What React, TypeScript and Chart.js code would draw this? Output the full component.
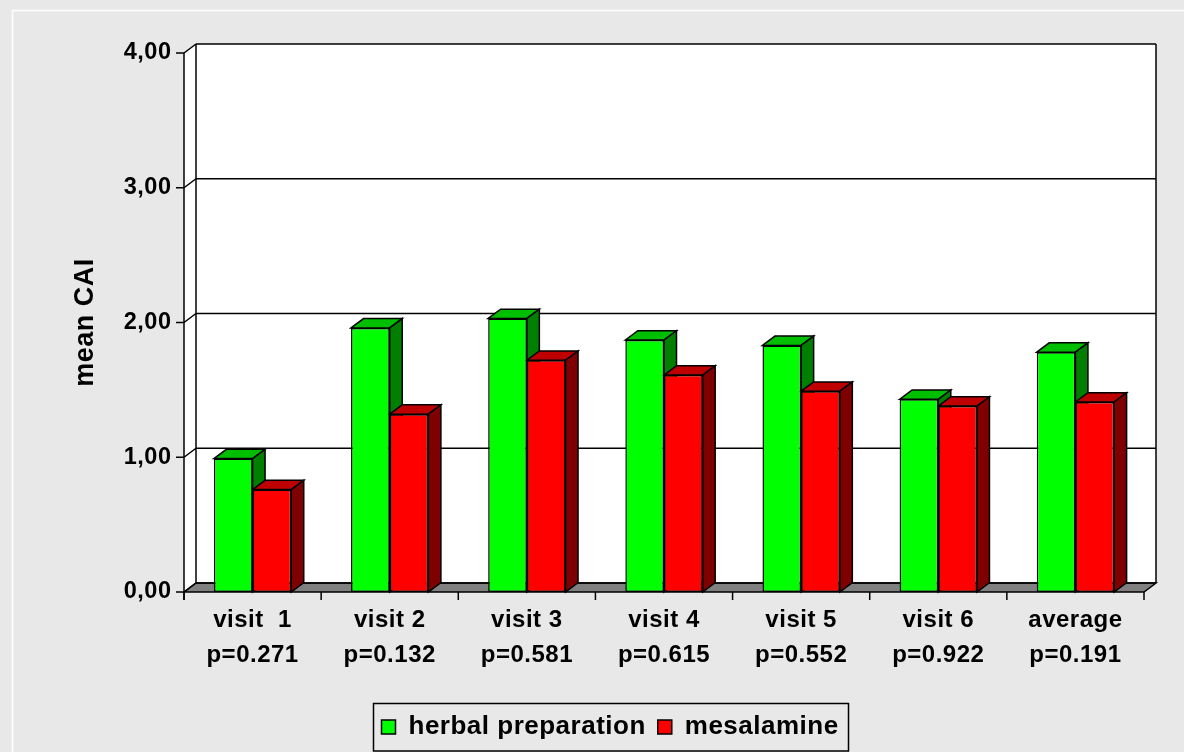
import React, { useEffect, useRef } from 'react';
import { Chart, registerables } from 'chart.js';

Chart.register(...registerables);

// ---- data ----
const categories = ['visit  1', 'visit 2', 'visit 3', 'visit 4', 'visit 5', 'visit 6', 'average'];
const pValues = ['p=0.271', 'p=0.132', 'p=0.581', 'p=0.615', 'p=0.552', 'p=0.922', 'p=0.191'];
const seriesNames = ['herbal preparation', 'mesalamine'];
const herbal = [0.99, 1.96, 2.03, 1.87, 1.83, 1.43, 1.78];
const mesalamine = [0.76, 1.32, 1.72, 1.61, 1.49, 1.38, 1.41];
const yTickLabels = ['0,00', '1,00', '2,00', '3,00', '4,00'];
const yTitle = 'mean CAI';

// ---- style ----
const W = 1184;
const H = 752;
const BG = '#e8e8e8';
const FONT = '"Liberation Sans", Arial, Helvetica, sans-serif';
const LW = 1.5;
const WALL_DX = 12;
const WALL_DY = -9;
const BAR_DX = 12.5;
const BAR_DY = -9.3;
const faces = [
  { front: '#00ff00', top: '#00bf00', side: '#007f00' },
  { front: '#ff0000', top: '#bf0000', side: '#7f0000' },
];

function poly(ctx: CanvasRenderingContext2D, pts: number[][], fill: string | null, stroke: boolean) {
  ctx.beginPath();
  ctx.moveTo(pts[0][0], pts[0][1]);
  for (let i = 1; i < pts.length; i++) ctx.lineTo(pts[i][0], pts[i][1]);
  ctx.closePath();
  if (fill) {
    ctx.fillStyle = fill;
    ctx.fill();
  }
  if (stroke) ctx.stroke();
}

function line(ctx: CanvasRenderingContext2D, x1: number, y1: number, x2: number, y2: number) {
  ctx.beginPath();
  ctx.moveTo(x1, y1);
  ctx.lineTo(x2, y2);
  ctx.stroke();
}

const spacingPlugin = {
  id: 'spacing',
  beforeLayout(chart: any) {
    chart.ctx.letterSpacing = '0.5px';
  },
  beforeDraw(chart: any) {
    chart.ctx.letterSpacing = '0.5px';
  },
};

const framePlugin = {
  id: 'frame',
  beforeDraw(chart: any) {
    const ctx = chart.ctx as CanvasRenderingContext2D;
    ctx.save();
    ctx.fillStyle = BG;
    ctx.fillRect(0, 0, chart.width, chart.height);
    ctx.strokeStyle = '#ffffff';
    ctx.lineWidth = 1.5;
    ctx.beginPath();
    ctx.moveTo(12.5, chart.height + 2);
    ctx.lineTo(12.5, 10.5);
    ctx.lineTo(chart.width + 2, 10.5);
    ctx.stroke();
    ctx.restore();
  },
};

const legendPlugin = {
  id: 'legendFrame',
  afterLayout(chart: any) {
    const lg = chart.legend;
    if (!lg || !lg.lineWidths) return;
    const pad = lg.options.labels.padding;
    const cx = (lg.left + pad + lg.right - lg.lineWidths[0]) / 2;
    const shift = 381.5 - cx;
    lg.left += shift;
    lg.right += shift;
  },
  afterDraw(chart: any) {
    const lg = chart.legend;
    if (!lg || !lg.legendHitBoxes || !lg.legendHitBoxes.length) return;
    const hb = lg.legendHitBoxes;
    const last = hb[hb.length - 1];
    const l = Math.round(hb[0].left - 9) + 0.5;
    const r = Math.round(last.left + last.width + 9) + 0.5;
    const ctx = chart.ctx as CanvasRenderingContext2D;
    ctx.save();
    ctx.strokeStyle = '#000';
    ctx.lineWidth = LW;
    ctx.strokeRect(l, Math.round(lg.top + 1) + 0.5, r - l, 47.5);
    ctx.restore();
  },
};

const threeDPlugin = {
  id: 'threeD',
  beforeDatasetsDraw(chart: any) {
    const ctx = chart.ctx as CanvasRenderingContext2D;
    const a = chart.chartArea;
    const xs = chart.scales.x;
    const ys = chart.scales.y;
    const L = a.left, R = a.right, T = a.top, B = a.bottom;
    ctx.save();
    ctx.lineWidth = LW;
    ctx.strokeStyle = '#000';
    ctx.lineJoin = 'miter';

    // back wall + side wall
    ctx.fillStyle = '#ffffff';
    ctx.fillRect(L + WALL_DX, T + WALL_DY, R - L, B - T);
    poly(ctx, [[L, T], [L + WALL_DX, T + WALL_DY], [L + WALL_DX, B + WALL_DY], [L, B]], '#ffffff', false);
    // floor
    poly(ctx, [[L, B], [L + WALL_DX, B + WALL_DY], [R + WALL_DX, B + WALL_DY], [R, B]], '#808080', true);

    // grid lines on walls and tick marks
    for (const t of ys.ticks) {
      const py = ys.getPixelForValue(t.value);
      line(ctx, L + WALL_DX, py + WALL_DY, R + WALL_DX, py + WALL_DY);
      line(ctx, L, py, L + WALL_DX, py + WALL_DY);
      line(ctx, L - 8, py, L, py);
    }
    line(ctx, L + WALL_DX, T + WALL_DY, L + WALL_DX, B + WALL_DY);
    line(ctx, R + WALL_DX, T + WALL_DY, R + WALL_DX, B + WALL_DY);
    line(ctx, L, T, L, B + 8);

    // category boundary ticks
    const n = chart.data.labels.length;
    const cw = (R - L) / n;
    for (let i = 0; i <= n; i++) {
      const px = i < n ? xs.getPixelForValue(i) - cw / 2 : xs.getPixelForValue(n - 1) + cw / 2;
      line(ctx, px, B, px, B + 8);
    }

    // bar tops and sides
    for (let i = 0; i < n; i++) {
      chart.data.datasets.forEach((_ds: any, d: number) => {
        const el = chart.getDatasetMeta(d).data[i];
        if (!el) return;
        const p = el.getProps(['x', 'y', 'base', 'width'], true);
        const x0 = p.x - p.width / 2;
        const x1 = p.x + p.width / 2;
        const top = p.y;
        const base = p.base;
        poly(ctx, [[x0, top], [x0 + BAR_DX, top + BAR_DY], [x1 + BAR_DX, top + BAR_DY], [x1, top]], faces[d].top, true);
        poly(ctx, [[x1, top], [x1 + BAR_DX, top + BAR_DY], [x1 + BAR_DX, base + BAR_DY], [x1, base]], faces[d].side, true);
      });
    }
    ctx.restore();
  },
};

export default function App() {
  const ref = useRef<HTMLCanvasElement | null>(null);

  useEffect(() => {
    if (!ref.current) return;
    const labels = categories.map((c, i) => [c, pValues[i]]);
    const chart = new Chart(ref.current, {
      type: 'bar',
      data: {
        labels,
        datasets: [
          {
            label: seriesNames[0],
            data: herbal,
            backgroundColor: faces[0].front,
            borderColor: '#000',
            borderWidth: LW,
            borderSkipped: false,
            categoryPercentage: 0.564,
            barPercentage: 1,
          },
          {
            label: seriesNames[1],
            data: mesalamine,
            backgroundColor: faces[1].front,
            borderColor: '#000',
            borderWidth: LW,
            borderSkipped: false,
            categoryPercentage: 0.564,
            barPercentage: 1,
          },
        ],
      },
      options: {
        responsive: false,
        animation: false,
        devicePixelRatio: 1,
        layout: { padding: { top: 53, right: 40, bottom: 2, left: 0 } },
        plugins: {
          tooltip: { enabled: false },
          legend: {
            position: 'bottom',
            labels: {
              color: '#000',
              font: { family: FONT, size: 26, weight: 'bold' },
              boxWidth: 14,
              boxHeight: 14,
              padding: 12,
            },
          },
        },
        scales: {
          x: {
            grid: { display: false, drawTicks: false },
            border: { display: false },
            ticks: {
              color: '#000',
              font: { family: FONT, size: 24, weight: 'bold', lineHeight: 1.49 },
              padding: 10,
              autoSkip: false,
              maxRotation: 0,
              minRotation: 0,
            },
            afterFit(s: any) {
              s.height = 110;
            },
          },
          y: {
            min: 0,
            max: 4,
            grid: { display: false, drawTicks: false },
            border: { display: false },
            ticks: {
              stepSize: 1,
              color: '#000',
              font: { family: FONT, size: 23.5, weight: 'bold' },
              padding: 12.5,
              callback: (v: any) => yTickLabels[Math.round(Number(v))],
            },
            title: {
              display: true,
              text: yTitle,
              color: '#000',
              font: { family: FONT, size: 27, weight: 'bold', lineHeight: 1.2 },
              padding: { top: 69.3, bottom: 0 },
            },
            afterFit(s: any) {
              s.width = 184;
            },
          },
        },
      } as any,
      plugins: [spacingPlugin, framePlugin, threeDPlugin, legendPlugin] as any,
    });
    return () => chart.destroy();
  }, []);

  return (
    <div style={{ position: 'fixed', left: 0, top: 0, width: W, height: H, background: BG }}>
      <canvas ref={ref} width={W} height={H} style={{ display: 'block' }} />
    </div>
  );
}
